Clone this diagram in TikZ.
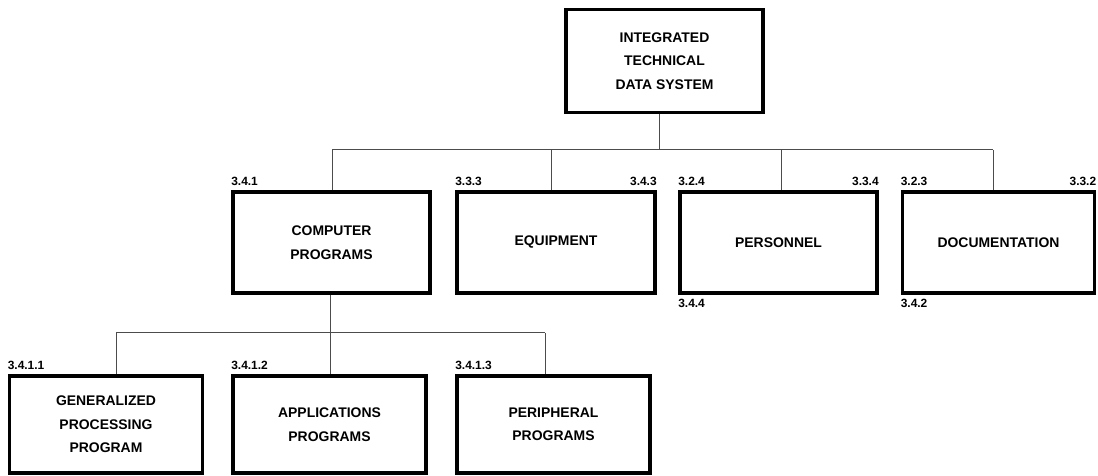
\documentclass[tikz,border=0pt]{standalone}
\usepackage{fontspec}
\setmainfont{Liberation Sans}
\begin{document}
\begin{tikzpicture}[x=1bp,y=-1bp,
  box/.style={draw, line width=3.8bp, rectangle, align=center, inner sep=0,
    font=\fontsize{14}{23.5}\selectfont\bfseries},
  num/.style={inner sep=0, font=\fontsize{12}{13}\selectfont\bfseries},
  link/.style={line width=1bp, draw=black!70}]
\useasboundingbox (0,0) rectangle (1098,476);

% top of the tree
\node[box, minimum width=197bp, minimum height=103bp] (itds) at (664.5,61)
  {INTEGRATED\\TECHNICAL\\DATA SYSTEM};

% second level
\node[box, minimum width=197bp, minimum height=101bp] (comp) at (331.5,242.5)
  {COMPUTER\\PROGRAMS};
\node[box, minimum width=198bp, minimum height=101bp] (equip) at (556,242.5)
  {EQUIPMENT};
\node[box, minimum width=197bp, minimum height=101bp] (pers) at (778.5,242.5)
  {PERSONNEL};
\node[box, minimum width=192bp, minimum height=101bp] (doc) at (998.5,242.5)
  {DOCUMENTATION};

% third level
\node[box, minimum width=193bp, minimum height=97bp] (gen) at (106,424.5)
  {GENERALIZED\\PROCESSING\\PROGRAM};
\node[box, minimum width=193bp, minimum height=97bp] (appl) at (329.5,424.5)
  {APPLICATIONS\\PROGRAMS};
\node[box, minimum width=193bp, minimum height=97bp] (peri) at (553.5,424.5)
  {PERIPHERAL\\PROGRAMS};

% paragraph numbers
\node[num, anchor=south west] at ([yshift=4bp]comp.north west) {3.4.1};
\node[num, anchor=south west] at ([yshift=4bp]equip.north west) {3.3.3};
\node[num, anchor=south east] at ([yshift=4bp]equip.north east) {3.4.3};
\node[num, anchor=south west] at ([yshift=4bp]pers.north west) {3.2.4};
\node[num, anchor=south east] at ([yshift=4bp]pers.north east) {3.3.4};
\node[num, anchor=south west] at ([yshift=4bp]doc.north west) {3.2.3};
\node[num, anchor=south east] at ([yshift=4bp]doc.north east) {3.3.2};
\node[num, anchor=north west] at ([yshift=-4bp]pers.south west) {3.4.4};
\node[num, anchor=north west] at ([yshift=-4bp]doc.south west) {3.4.2};
\node[num, anchor=south west] at ([yshift=4bp]gen.north west) {3.4.1.1};
\node[num, anchor=south west] at ([yshift=4bp]appl.north west) {3.4.1.2};
\node[num, anchor=south west] at ([yshift=4bp]peri.north west) {3.4.1.3};

% junction points on the first bus
\coordinate (b0) at (659,150);
\coordinate (b1) at (332,150);
\coordinate (b2) at (551,150);
\coordinate (b3) at (781,150);
\coordinate (b4) at (993,150);
% junction points on the second bus
\coordinate (c0) at (330,333);
\coordinate (c1) at (116,333);
\coordinate (c2) at (330,333);
\coordinate (c3) at (545,333);

% first level connectors
\draw[link] (b0 |- itds.south) -- (b0);
\draw[link] (b1) -- (b4);
\draw[link] (b1) -- (b1 |- comp.north);
\draw[link] (b2) -- (b2 |- equip.north);
\draw[link] (b3) -- (b3 |- pers.north);
\draw[link] (b4) -- (b4 |- doc.north);

% second level connectors
\draw[link] (c0 |- comp.south) -- (c0);
\draw[link] (c1) -- (c3);
\draw[link] (c1) -- (c1 |- gen.north);
\draw[link] (c2) -- (c2 |- appl.north);
\draw[link] (c3) -- (c3 |- peri.north);
\end{tikzpicture}
\end{document}
